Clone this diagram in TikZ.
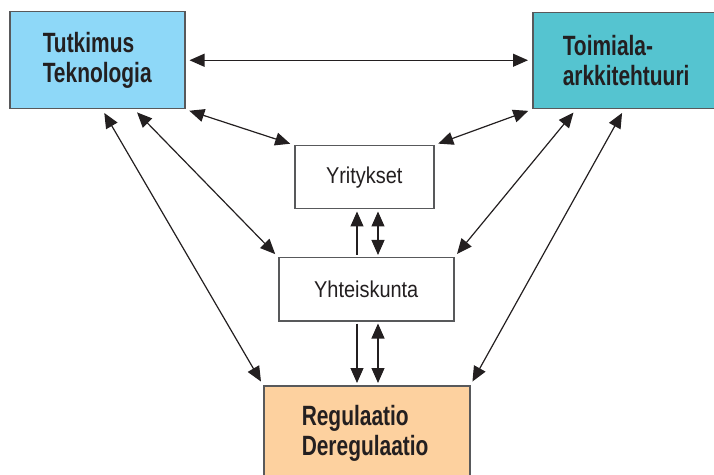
\documentclass[tikz,border=0pt]{standalone}
\usepackage{fontspec}
\setmainfont{Liberation Sans}
\newfontfamily\headfont[FakeStretch=0.75]{Liberation Sans}
\newfontfamily\labelfont[FakeStretch=0.87]{Liberation Sans}
\usetikzlibrary{arrows.meta}
\definecolor{ink}{HTML}{231F20}
\definecolor{frame}{HTML}{58595B}
\definecolor{research}{HTML}{8ED8F8}
\definecolor{industry}{HTML}{55C4D0}
\definecolor{regul}{HTML}{FDD19F}

\begin{document}
\begin{tikzpicture}[x=1bp,y=-1bp,
  >={Triangle[length=15bp,width=13bp]},
  box/.style={draw=frame, line width=1.5bp, inner ysep=0pt, anchor=north west},
  mainbox/.style={box, font=\headfont\bfseries\fontsize{28}{30}\selectfont, text=ink, align=left},
  subbox/.style={box, font=\labelfont\fontsize{23}{26}\selectfont, text=ink, align=center, fill=white, inner xsep=0pt},
  link/.style={draw=ink, line width=1.2bp, <->, shorten <=4bp, shorten >=4bp},
  vlink/.style={draw=ink, line width=1.2bp, shorten <=2bp, shorten >=2bp},
]
\useasboundingbox (0,0) rectangle (714,475);
\clip (0,0) rectangle (714,475);

% main boxes
\node[mainbox, fill=research, minimum width=175bp, minimum height=97bp,
      inner xsep=33bp, text width=109bp] (tut) at (9,11) {Tutkimus\\Teknologia};
\node[mainbox, fill=industry, minimum width=210bp, minimum height=96bp,
      inner xsep=30bp, text width=150bp] (toi) at (532,12) {Toimiala-\\arkkitehtuuri};
\node[mainbox, fill=regul, minimum width=206bp, minimum height=95bp,
      inner xsep=38bp, text width=130bp] (reg) at (263,385) {Regulaatio\\Deregulaatio};

% middle boxes
\node[subbox, minimum width=139bp, minimum height=63bp] (yri) at (294,145) {Yritykset};
\node[subbox, minimum width=175bp, minimum height=63bp] (yht) at (278,257) {Yhteiskunta};

% columns of the vertical links
\coordinate (lx) at (357,0);
\coordinate (rx) at (378,0);

% two-way links
\draw[link] (tut.east) -- (tut.east -| toi.west);
\draw[link] (tut.south east) -- (yri.north west);
\draw[link] (toi.south west) -- (yri.north east);
\draw[link] ([xshift=37bp]tut.south) -- (yht.north west);
\draw[link] ([xshift=5bp]tut.south) -- (reg.north west);
\draw[link] ([xshift=44bp]toi.south west) -- (yht.north east);
\draw[link] ([xshift=92bp]toi.south west) -- (reg.north east);

% vertical links
\draw[vlink, ->] (yht.north -| lx) -- (yri.south -| lx);
\draw[vlink, <->] (yht.north -| rx) -- (yri.south -| rx);
\draw[vlink, ->] (yht.south -| lx) -- (reg.north -| lx);
\draw[vlink, <->] (yht.south -| rx) -- (reg.north -| rx);
\end{tikzpicture}
\end{document}
